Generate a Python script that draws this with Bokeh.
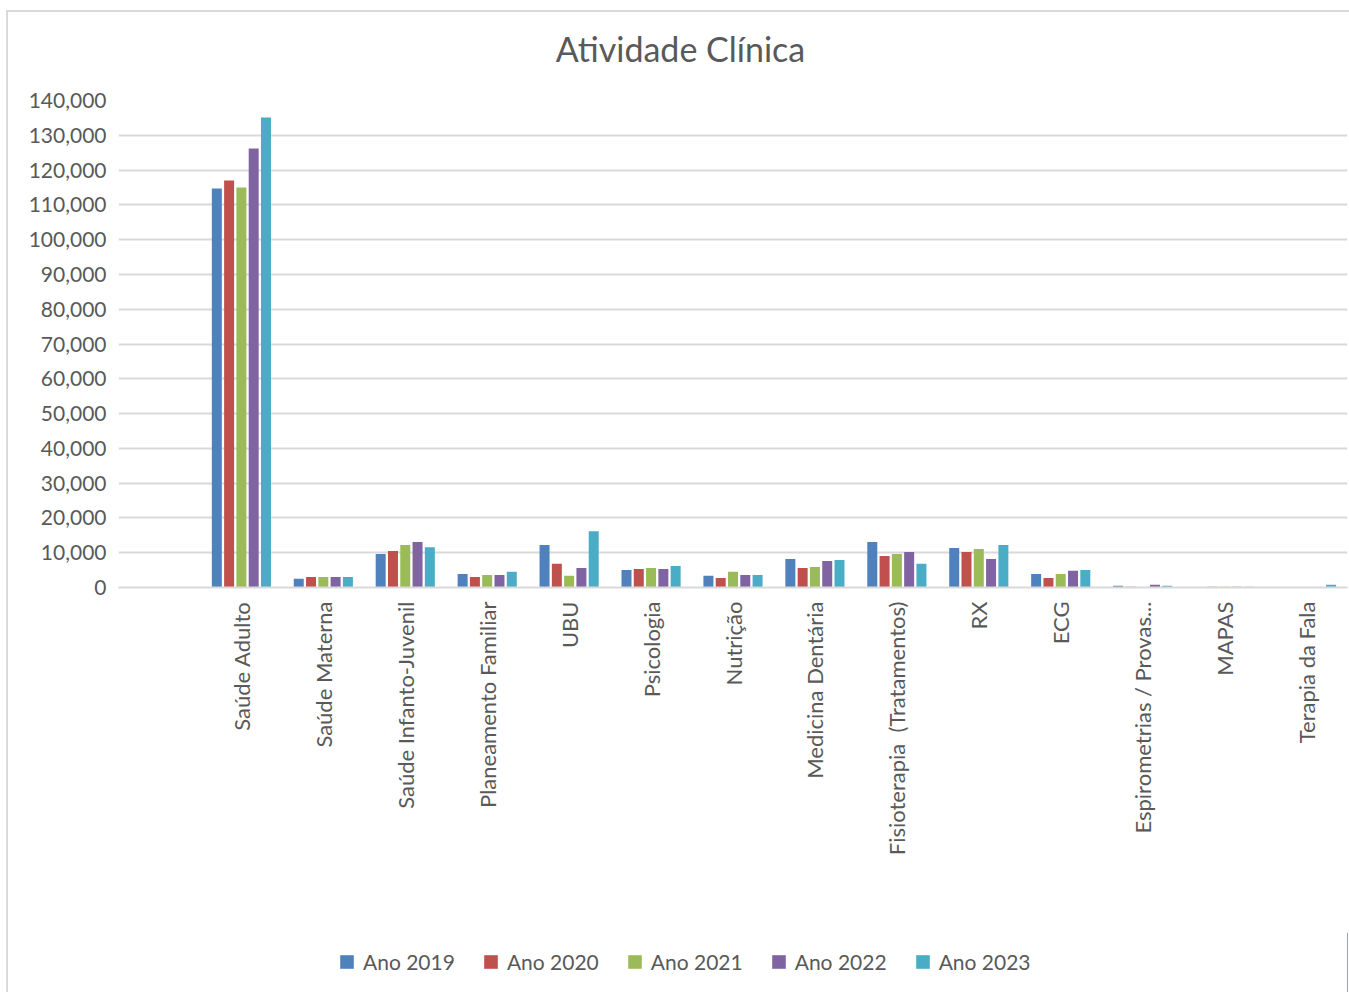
import math
from bokeh.plotting import figure
from bokeh.layouts import column
from bokeh.models import (FactorRange, Range1d, ColumnDataSource, Legend, LegendItem, Label,
                          NumeralTickFormatter, SingleIntervalTicker)
from bokeh.transform import dodge
from bokeh.embed import file_html
from bokeh.resources import INLINE

categories = ["Saúde Adulto", "Saúde Materna", "Saúde Infanto-Juvenil", "Planeamento Familiar",
              "UBU", "Psicologia", "Nutrição", "Medicina Dentária", "Fisioterapia\u00a0 (Tratamentos)",
              "RX", "ECG", "Espirometrias / Provas...", "MAPAS", "Terapia da Fala"]
ano_2019 = [114700, 2500, 9600, 3900, 12200, 5050, 3350, 8200, 13050, 11350, 3900, 500, 50, 50]
ano_2020 = [117000, 3050, 10500, 3050, 6800, 5350, 2750, 5600, 9050, 10200, 2750, 200, 200, 50]
ano_2021 = [115000, 3050, 12200, 3600, 3350, 5600, 4500, 5900, 9600, 11050, 3900, 100, 200, 50]
ano_2022 = [126200, 3050, 13050, 3600, 5600, 5350, 3600, 7600, 10200, 8200, 4800, 800, 200, 50]
ano_2023 = [135100, 3050, 11600, 4500, 16200, 6200, 3600, 7900, 6800, 12200, 5050, 500, 200, 800]
series_names = ["Ano 2019", "Ano 2020", "Ano 2021", "Ano 2022", "Ano 2023"]
colors = ["#4f81bd", "#c0504d", "#9bbb59", "#8064a2", "#4bacc6"]
title_text = "Atividade Clínica"

FONT = "Lato"
TXT = "#595959"


def strip(height):
    f = figure(width=1341, height=height, x_range=Range1d(0, 1), y_range=Range1d(0, 1),
               output_backend="svg", toolbar_location=None,
               min_border_left=110, min_border_right=2, min_border_top=0, min_border_bottom=0)
    f.axis.visible = False
    f.grid.visible = False
    f.outline_line_color = None
    return f


# title strip
t = strip(68)
t.add_layout(Label(x=562, y=32, x_units="screen", y_units="screen", text=title_text,
                   text_font=FONT, text_font_size="34px", text_color=TXT,
                   text_align="center", text_baseline="middle"))

# main chart
factors = [" "] + categories
src = ColumnDataSource(dict(cat=categories, a=ano_2019, b=ano_2020, c=ano_2021,
                            d=ano_2022, e=ano_2023))

p = figure(width=1341, height=852, x_range=FactorRange(factors=factors),
           y_range=Range1d(0, 140000), output_backend="svg", toolbar_location=None,
           min_border_left=110, min_border_right=2, min_border_top=20, min_border_bottom=345)
p.outline_line_color = None
p.xgrid.grid_line_color = None
p.ygrid.grid_line_color = "#d9d9d9"
p.ygrid.grid_line_width = 2
p.yaxis.ticker = SingleIntervalTicker(interval=10000)
p.yaxis.formatter = NumeralTickFormatter(format="0,0")
p.yaxis.axis_line_color = None
p.yaxis.major_tick_line_color = None
p.yaxis.minor_tick_line_color = None
p.yaxis.major_label_standoff = 6
p.xaxis.axis_line_color = "#d9d9d9"
p.xaxis.axis_line_width = 2
p.xaxis.major_tick_line_color = None
p.xaxis.major_label_orientation = math.pi / 2
p.xaxis.major_label_standoff = 8
for ax in (p.xaxis, p.yaxis):
    ax.major_label_text_font = FONT
    ax.major_label_text_color = TXT
p.yaxis.major_label_text_font_size = "21px"
p.xaxis.major_label_text_font_size = "22px"

offsets = [-0.3, -0.15, 0.0, 0.15, 0.3]
for col, off, color in zip(["a", "b", "c", "d", "e"], offsets, colors):
    p.vbar(x=dodge("cat", off, range=p.x_range), top=col, width=0.122, source=src,
           fill_color=color, line_color=None)

# legend strip
q = strip(60)
items = []
for color, name in zip(colors, series_names):
    r = q.vbar(x=[5], top=[1], width=0.1, fill_color=color, line_color=None)
    items.append(LegendItem(label=name, renderers=[r]))
legend = Legend(items=items, orientation="horizontal", location=(220, 18),
                glyph_width=17, glyph_height=17, label_standoff=8, spacing=27,
                label_text_font=FONT, label_text_font_size="21px", label_text_color=TXT,
                border_line_color=None, background_fill_alpha=0, padding=0, margin=0)
q.add_layout(legend, "center")

layout = column(t, p, q, spacing=0)
layout.styles = {"margin-left": "8px", "margin-top": "12px", "outline": "2px solid #d9d9d9"}

open("out.html", "w").write(file_html(layout, INLINE))
